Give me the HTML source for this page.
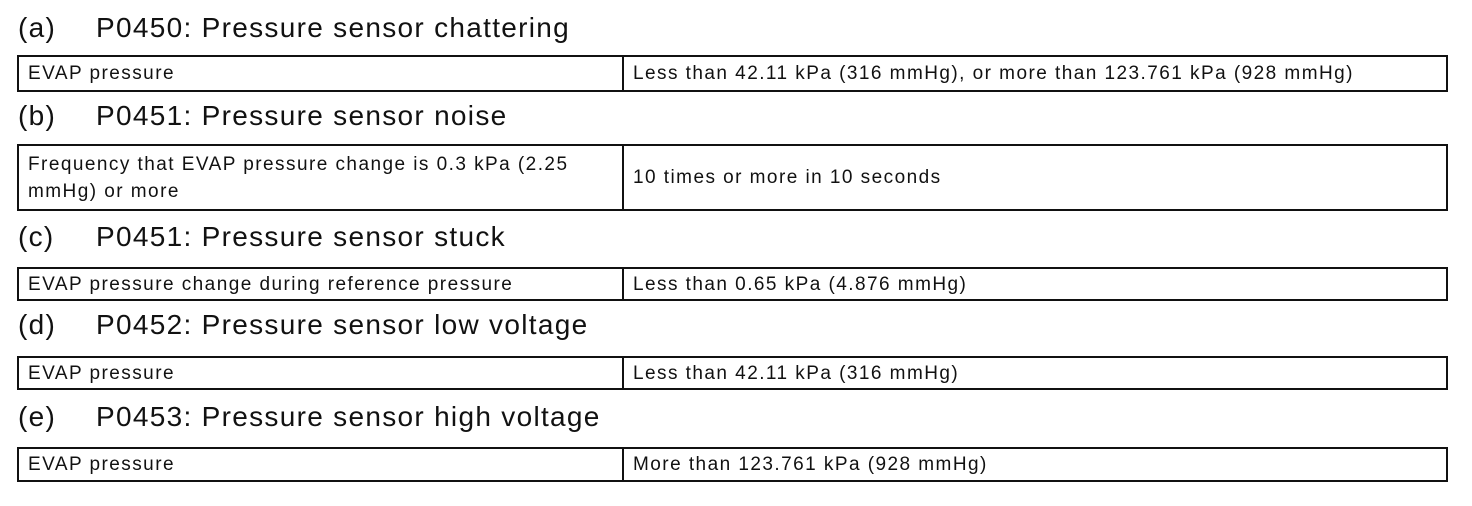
<!DOCTYPE html>
<html><head><style>
body{margin:0;width:1472px;height:506px;background:#fff;font-family:"Liberation Sans",sans-serif;color:#111;position:relative;overflow:hidden}
.h{position:absolute;left:18px;font-size:28px;line-height:30px;white-space:nowrap;letter-spacing:1.3px}
.h span{position:absolute;left:78px}
.t{position:absolute;left:17px;width:1427px;border:2px solid #111;display:flex}
.t div{font-size:19px;letter-spacing:1.45px;padding:0 9px;display:flex;align-items:center;line-height:27px}
.t .l{border-right:2px solid #111;padding-right:40px;box-sizing:border-box;width:605px}
.t .r{flex:1}
</style></head><body>
<div class="h" style="top:13px">(a)<span>P0450: Pressure sensor chattering</span></div>
<div class="t" style="top:55px;height:33px"><div class="l">EVAP pressure</div><div class="r">Less than 42.11 kPa (316 mmHg), or more than 123.761 kPa (928 mmHg)</div></div>
<div class="h" style="top:101px">(b)<span>P0451: Pressure sensor noise</span></div>
<div class="t" style="top:144px;height:63px"><div class="l">Frequency that EVAP pressure change is 0.3 kPa (2.25 mmHg) or more</div><div class="r">10 times or more in 10 seconds</div></div>
<div class="h" style="top:222px">(c)<span>P0451: Pressure sensor stuck</span></div>
<div class="t" style="top:267px;height:30px"><div class="l">EVAP pressure change during reference pressure</div><div class="r">Less than 0.65 kPa (4.876 mmHg)</div></div>
<div class="h" style="top:310px">(d)<span>P0452: Pressure sensor low voltage</span></div>
<div class="t" style="top:356px;height:30px"><div class="l">EVAP pressure</div><div class="r">Less than 42.11 kPa (316 mmHg)</div></div>
<div class="h" style="top:402px">(e)<span>P0453: Pressure sensor high voltage</span></div>
<div class="t" style="top:447px;height:31px"><div class="l">EVAP pressure</div><div class="r">More than 123.761 kPa (928 mmHg)</div></div>
</body></html>
